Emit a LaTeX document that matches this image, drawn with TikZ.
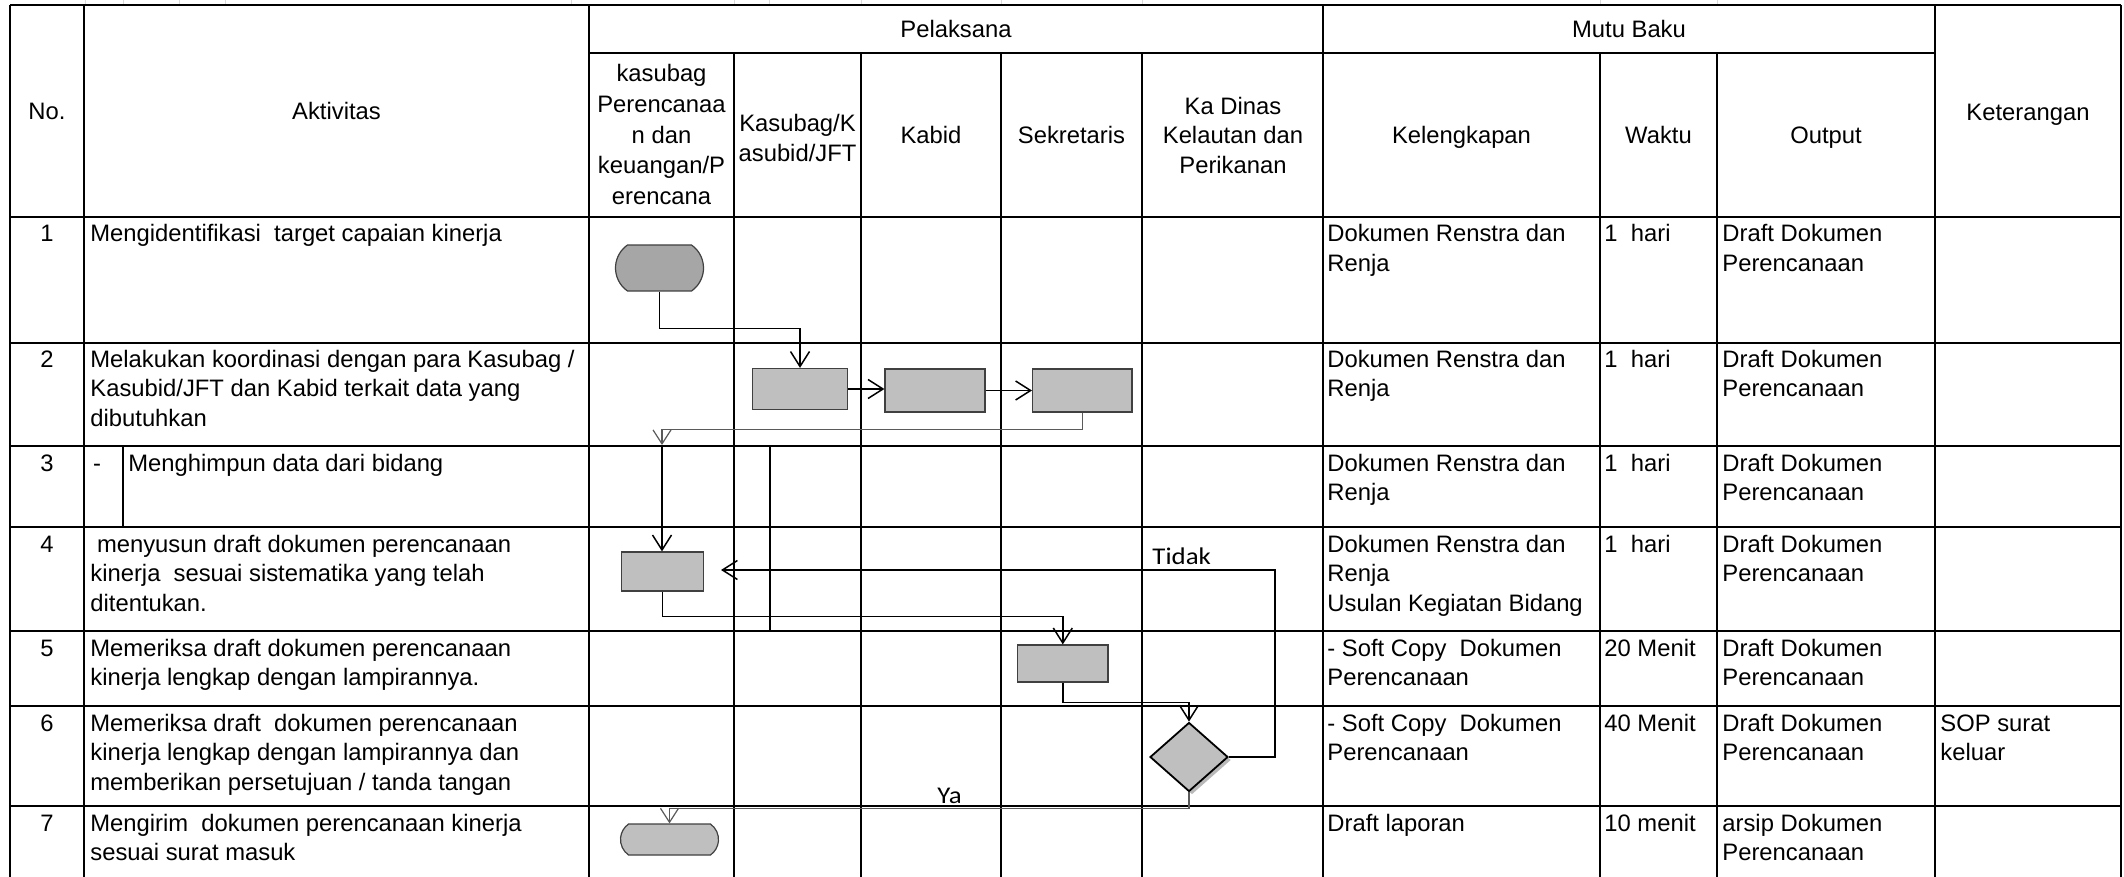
\documentclass[tikz,border=0pt]{standalone}
\usepackage{fontspec}
\setmainfont{Liberation Sans}
\newfontfamily\lblfont[FakeStretch=1.12]{Carlito}
\usetikzlibrary{arrows.meta,shapes.geometric,shapes.misc,shadows}
\definecolor{termdark}{HTML}{A6A6A6}
\definecolor{boxgray}{HTML}{BFBFBF}
\definecolor{edgegray}{HTML}{404040}
\definecolor{conngray}{HTML}{5A5A5A}
\definecolor{tickgray}{HTML}{D9D9D9}
\newcommand{\LL}[1]{\vtop{\halign{##\hfil\cr#1\crcr}}}
\newcommand{\CL}[1]{\vtop{\halign{\hfil##\hfil\cr#1\crcr}}}
\begin{document}
\begin{tikzpicture}[x=0.5pt,y=-0.5pt,
  txt/.style={inner sep=0pt, font=\fontsize{11.9pt}{14.75pt}\selectfont},
  hdtxt/.style={inner sep=0pt, font=\fontsize{11.9pt}{15.3pt}\selectfont},
  lbl/.style={inner sep=0pt, font=\lblfont\fontsize{12pt}{14pt}\selectfont},
  gridline/.style={line width=1pt, black},
  conn/.style={line width=0.75pt, black},
  arr/.style={conn, -{Straight Barb[length=7.5pt, width=9.5pt]}},
  garr/.style={line width=0.6pt, conngray, -{Straight Barb[length=7pt, width=9pt]}},
  procbox/.style={draw=edgegray, line width=0.6pt, fill=boxgray, inner sep=0pt},
  termshape/.style={rounded rectangle, rounded rectangle arc length=110, draw=edgegray, line width=0.6pt, inner sep=0pt}
]
\useasboundingbox (0,0) rectangle (2124,877);
% faint sheet ticks above the table
\foreach \x in {85,123,179,225,571,734,769,861,1001,1142,1600,1717}
  \draw[tickgray, line width=0.5pt] (\x,0) -- (\x,4);
% grid
\foreach \y in {5,217,343,446,527,631,706,806}
  \draw[gridline] (10,\y) -- (2121,\y);
\draw[gridline] (589,53) -- (1935,53);
\foreach \x in {10,84,589,1323,1935,2121}
  \draw[gridline] (\x,5) -- (\x,877);
\foreach \x in {734,861,1001,1142,1600,1717}
  \draw[gridline] (\x,53) -- (\x,877);
\draw[gridline] (123,446) -- (123,527);

% header texts
\node[txt,anchor=base] (hno) at (47,120) {No.};
\node[txt,anchor=base] (hakt) at (336.5,120) {Aktivitas};
\node[txt,anchor=base] (hpel) at (956,37.5) {Pelaksana};
\node[txt,anchor=base] (hmutu) at (1629,37.5) {Mutu Baku};
\node[txt,anchor=base] (hket) at (2028,121) {Keterangan};
\node[hdtxt,anchor=base] (hkasubag) at (661.5,82) {\CL{kasubag\cr Perencanaa\cr n dan\cr keuangan/P\cr erencana}};
\node[txt,anchor=base] (hkasubid) at (797.5,132) {\CL{Kasubag/K\cr asubid/JFT}};
\node[txt,anchor=base] (hkabid) at (931,144) {Kabid};
\node[txt,anchor=base] (hsek) at (1071.5,144) {Sekretaris};
\node[txt,anchor=base] (hkadis) at (1233,114.5) {\CL{Ka Dinas\cr Kelautan dan\cr Perikanan}};
\node[txt,anchor=base] (hkel) at (1461.5,144) {Kelengkapan};
\node[txt,anchor=base] (hwak) at (1658.5,144) {Waktu};
\node[txt,anchor=base] (hout) at (1826,144) {Output};

% numbers
\node[txt,anchor=base] (n1) at (47,242) {1};
\node[txt,anchor=base] (n2) at (47,367) {2};
\node[txt,anchor=base] (n3) at (47,471) {3};
\node[txt,anchor=base] (n4) at (47,552) {4};
\node[txt,anchor=base] (n5) at (47,656) {5};
\node[txt,anchor=base] (n6) at (47,731) {6};
\node[txt,anchor=base] (n7) at (47,831) {7};

% activities
\node[txt,anchor=base west] (a1) at (90,242) {Mengidentifikasi~ target capaian kinerja};
\node[txt,anchor=base west] (a2) at (90,367) {\LL{Melakukan koordinasi dengan para Kasubag /\cr Kasubid/JFT dan Kabid terkait data yang\cr dibutuhkan}};
\node[txt,anchor=base] (a3d) at (97,471) {-};
\node[txt,anchor=base west] (a3) at (128,471) {Menghimpun data dari bidang};
\node[txt,anchor=base west] (a4) at (90,552) {\LL{\ menyusun draft dokumen perencanaan\cr kinerja~ sesuai sistematika yang telah\cr ditentukan.}};
\node[txt,anchor=base west] (a5) at (90,656) {\LL{Memeriksa draft dokumen perencanaan\cr kinerja lengkap dengan lampirannya.}};
\node[txt,anchor=base west] (a6) at (90,731) {\LL{Memeriksa draft~ dokumen perencanaan\cr kinerja lengkap dengan lampirannya dan\cr memberikan persetujuan / tanda tangan}};
\node[txt,anchor=base west] (a7) at (90,831) {\LL{Mengirim~ dokumen perencanaan kinerja\cr sesuai surat masuk}};

% kelengkapan
\node[txt,anchor=base west] (k1) at (1327,242) {\LL{Dokumen Renstra dan\cr Renja}};
\node[txt,anchor=base west] (k2) at (1327,367) {\LL{Dokumen Renstra dan\cr Renja}};
\node[txt,anchor=base west] (k3) at (1327,471) {\LL{Dokumen Renstra dan\cr Renja}};
\node[txt,anchor=base west] (k4) at (1327,552) {\LL{Dokumen Renstra dan\cr Renja\cr Usulan Kegiatan Bidang}};
\node[txt,anchor=base west] (k5) at (1327,656) {\LL{- Soft Copy~ Dokumen\cr Perencanaan}};
\node[txt,anchor=base west] (k6) at (1327,731) {\LL{- Soft Copy~ Dokumen\cr Perencanaan}};
\node[txt,anchor=base west] (k7) at (1327,831) {Draft laporan};

% waktu
\node[txt,anchor=base west] (w1) at (1604,242) {1~ hari};
\node[txt,anchor=base west] (w2) at (1604,367) {1~ hari};
\node[txt,anchor=base west] (w3) at (1604,471) {1~ hari};
\node[txt,anchor=base west] (w4) at (1604,552) {1~ hari};
\node[txt,anchor=base west] (w5) at (1604,656) {20 Menit};
\node[txt,anchor=base west] (w6) at (1604,731) {40 Menit};
\node[txt,anchor=base west] (w7) at (1604,831) {10 menit};

% output
\node[txt,anchor=base west] (o1) at (1722,242) {\LL{Draft Dokumen\cr Perencanaan}};
\node[txt,anchor=base west] (o2) at (1722,367) {\LL{Draft Dokumen\cr Perencanaan}};
\node[txt,anchor=base west] (o3) at (1722,471) {\LL{Draft Dokumen\cr Perencanaan}};
\node[txt,anchor=base west] (o4) at (1722,552) {\LL{Draft Dokumen\cr Perencanaan}};
\node[txt,anchor=base west] (o5) at (1722,656) {\LL{Draft Dokumen\cr Perencanaan}};
\node[txt,anchor=base west] (o6) at (1722,731) {\LL{Draft Dokumen\cr Perencanaan}};
\node[txt,anchor=base west] (o7) at (1722,831) {\LL{arsip Dokumen\cr Perencanaan}};

% keterangan
\node[txt,anchor=base west] (ket6) at (1940,731) {\LL{SOP surat\cr keluar}};

% flow shapes
\node[termshape, fill=termdark, minimum width=44pt, minimum height=23pt] (start) at (659.5,268) {};
\node[procbox, minimum width=47.25pt, minimum height=20.5pt] (b1) at (800,389) {};
\node[procbox, minimum width=50pt, minimum height=21.5pt] (b2) at (935,390.5) {};
\node[procbox, minimum width=49.7pt, minimum height=21.5pt] (b3) at (1082.3,390.5) {};
\node[procbox, minimum width=40.75pt, minimum height=19.5pt] (b4) at (662.5,571.5) {};
\node[procbox, minimum width=45.2pt, minimum height=18.5pt] (b5) at (1062.8,663.5) {};
\node[diamond, draw=black, line width=0.9pt, fill=boxgray, minimum width=39pt, minimum height=34.5pt, inner sep=0pt,
      drop shadow={shadow xshift=1.5pt, shadow yshift=-1.5pt, fill=black!55, opacity=0.5}] (dia) at (1189,757) {};
\node[termshape, fill=boxgray, minimum width=49pt, minimum height=15.5pt] (endt) at (669.5,839.5) {};

% stray connector line
\draw[conn] (770,446) -- (770,631);

% connectors
\draw[arr] (start.south) -- ++(0,37) -| (b1.north);
\draw[arr] (b1.east) -- (b1.east -| b2.west);
\draw[arr] (b2.east) -- (b3.west);
\coordinate (j1) at (662,445);
\draw[garr] (b3.south) -- ++(0,17) -| (j1);
\draw[arr] (j1) -- (j1 |- b4.north);
\draw[arr] (b4.south) -- ++(0,25) -| (b5.north);
\draw[arr] (b5.south) -- ++(0,20) -| (dia.north);
\coordinate (t1) at (721,570);
\draw[arr] (dia.east) -- ++(46,0) |- (t1);
\draw[garr] (dia.south) -- ++(0,16) -| (endt.north);

% labels
\node[lbl,anchor=base west] (tidak) at (1152,564) {Tidak};
\node[lbl,anchor=base west] (ya) at (937,803) {Ya};
\end{tikzpicture}
\end{document}
